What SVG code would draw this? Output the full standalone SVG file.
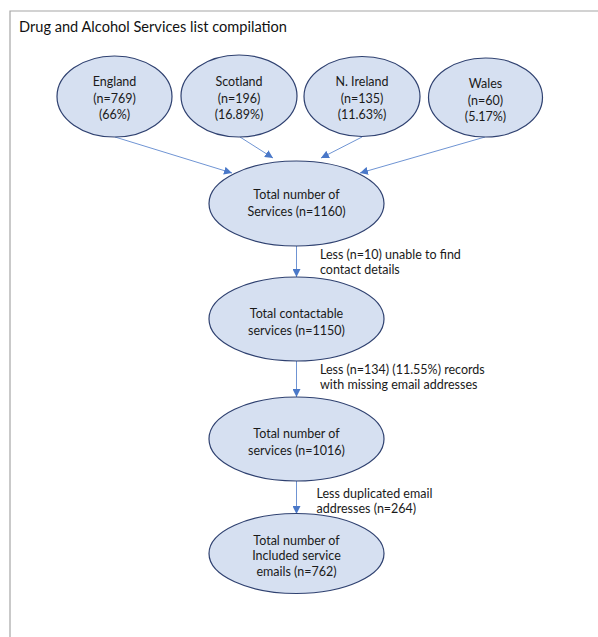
<svg xmlns="http://www.w3.org/2000/svg" width="598" height="637" viewBox="0 0 598 637">
<style>
.node ellipse{fill:#d6e0f1;stroke:#2f4170;stroke-width:1.2}
.t{font-family:Lato,"Liberation Sans",Arial,sans-serif;font-size:12.5px;fill:#1a1a1a;text-anchor:middle}
.lab{font-family:Lato,"Liberation Sans",Arial,sans-serif;font-size:12.5px;fill:#1a1a1a}
.title{font-family:Lato,"Liberation Sans",Arial,sans-serif;font-size:14.5px;fill:#111}
.conn line{stroke:#4a78c8;stroke-width:0.8;marker-end:url(#ah)}
</style>
<defs>
<marker id="ah" markerUnits="userSpaceOnUse" markerWidth="9" markerHeight="8" refX="8" refY="4" orient="auto">
<path d="M0,0 L8,4 L0,8 Z" fill="#4a78c8"/>
</marker>
</defs>
<rect width="598" height="637" fill="#fff"/>
<path d="M10,637 V11 H598" fill="none" stroke="#a6a6a6" stroke-width="1.2"/>
<text class="title" x="19" y="32" textLength="268" lengthAdjust="spacingAndGlyphs">Drug and Alcohol Services list compilation</text>

<g class="conn">
<line x1="115" y1="137" x2="232" y2="173"/>
<line x1="240" y1="137" x2="273" y2="158"/>
<line x1="362" y1="137" x2="321" y2="158"/>
<line x1="485" y1="137" x2="360" y2="173"/>
<line x1="296.5" y1="246" x2="296.5" y2="277"/>
<line x1="296.5" y1="361" x2="296.5" y2="397"/>
<line x1="296.5" y1="481" x2="296.5" y2="514"/>
</g>

<g id="england" class="node">
<ellipse cx="114.5" cy="96.5" rx="57.5" ry="40.5"/>
<text class="t" x="114.5" y="86">England</text>
<text class="t" x="114.5" y="102.5">(n=769)</text>
<text class="t" x="114.5" y="119">(66%)</text>
</g>
<g id="scotland" class="node">
<ellipse cx="239" cy="96" rx="58" ry="41"/>
<text class="t" x="239" y="86">Scotland</text>
<text class="t" x="239" y="102.5">(n=196)</text>
<text class="t" x="239" y="119">(16.89%)</text>
</g>
<g id="nireland" class="node">
<ellipse cx="362" cy="96.5" rx="58" ry="40"/>
<text class="t" x="362" y="86">N. Ireland</text>
<text class="t" x="362" y="102.5">(n=135)</text>
<text class="t" x="362" y="119">(11.63%)</text>
</g>
<g id="wales" class="node">
<ellipse cx="485.5" cy="97.5" rx="57" ry="39.5"/>
<text class="t" x="485.5" y="88">Wales</text>
<text class="t" x="485.5" y="104.5">(n=60)</text>
<text class="t" x="485.5" y="121">(5.17%)</text>
</g>
<g id="total" class="node">
<ellipse cx="296.5" cy="203.5" rx="87.5" ry="42.5"/>
<text class="t" x="296.5" y="199">Total number of</text>
<text class="t" x="296.5" y="215.5">Services (n=1160)</text>
</g>
<g id="contactable" class="node">
<ellipse cx="296.5" cy="319" rx="87.5" ry="42"/>
<text class="t" x="296.5" y="318">Total contactable</text>
<text class="t" x="296.5" y="334.5">services (n=1150)</text>
</g>
<g id="services1016" class="node">
<ellipse cx="296.5" cy="439" rx="87.5" ry="42"/>
<text class="t" x="296.5" y="438">Total number of</text>
<text class="t" x="296.5" y="454.5">services (n=1016)</text>
</g>
<g id="included" class="node">
<ellipse cx="296.5" cy="553.5" rx="87.5" ry="40"/>
<text class="t" x="296.5" y="544.5">Total number of</text>
<text class="t" x="296.5" y="560">Included service</text>
<text class="t" x="296.5" y="576">emails (n=762)</text>
</g>

<g id="labels">
<text class="lab" x="320" y="259">Less (n=10) unable to find</text>
<text class="lab" x="320" y="273.5">contact details</text>
<text class="lab" x="320" y="373.5">Less (n=134) (11.55%) records</text>
<text class="lab" x="320" y="389">with missing email addresses</text>
<text class="lab" x="316.5" y="497.5">Less duplicated email</text>
<text class="lab" x="316.5" y="513">addresses (n=264)</text>
</g>
</svg>
